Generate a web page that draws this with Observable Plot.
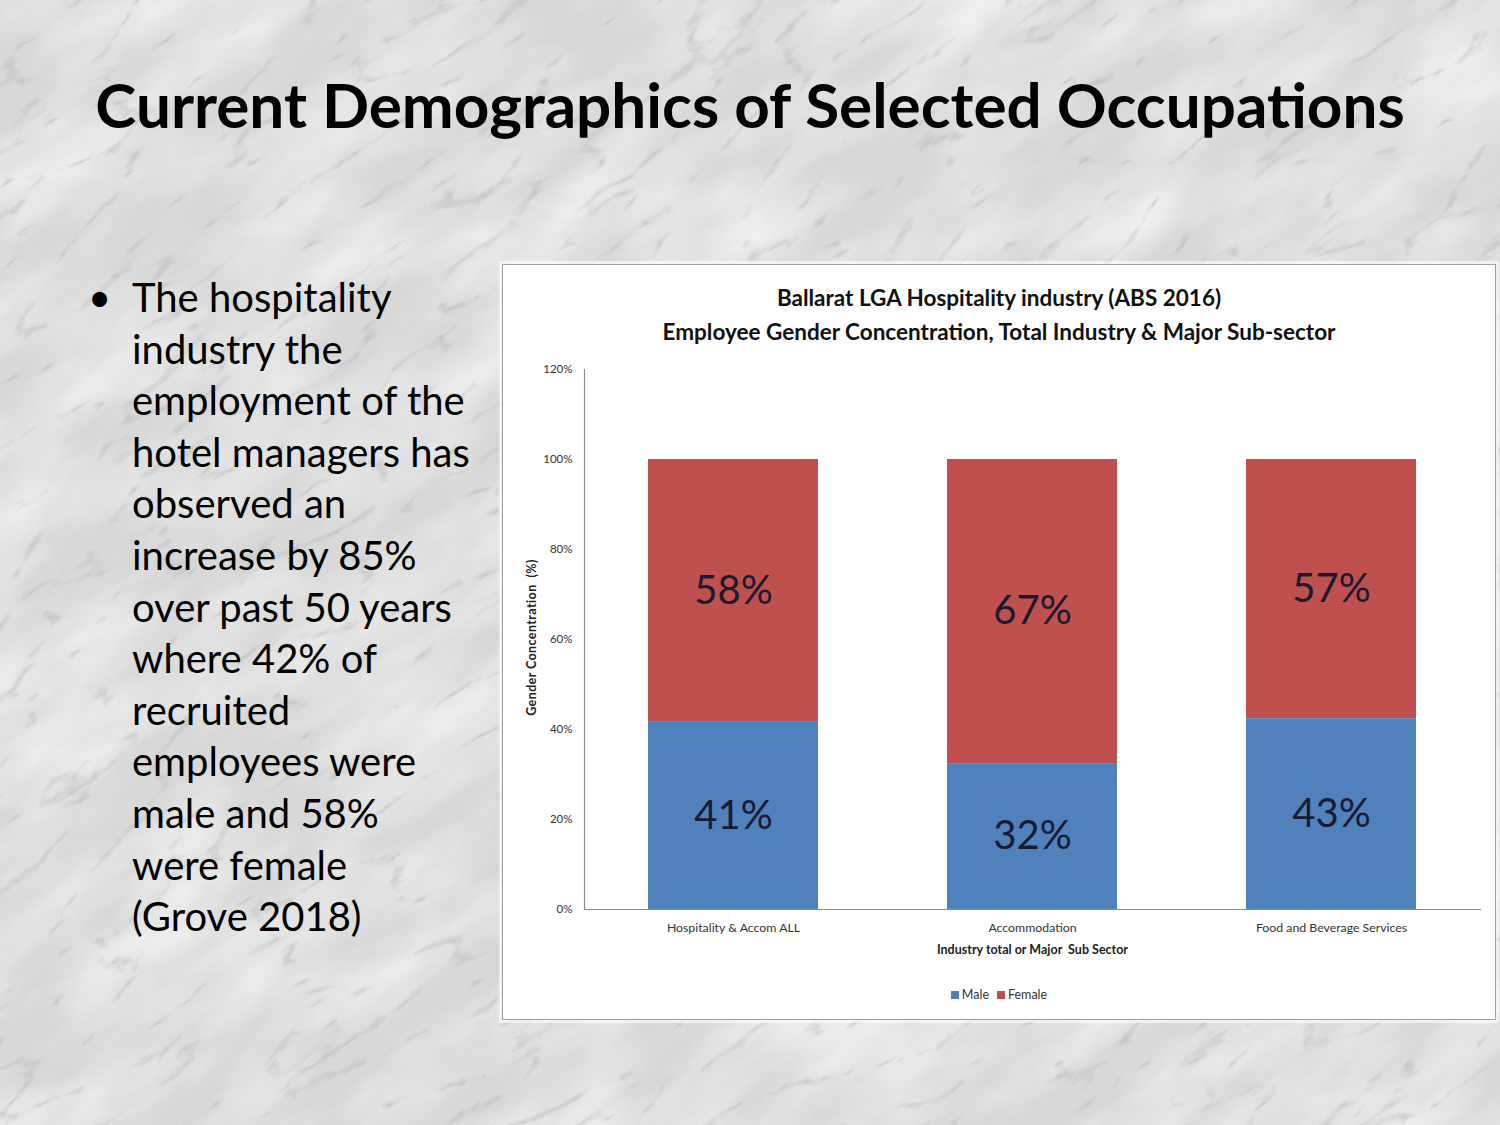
<!DOCTYPE html>
<html>
<head>
<meta charset="utf-8">
<script src="https://cdn.jsdelivr.net/npm/d3@7"></script>
<script src="https://cdn.jsdelivr.net/npm/@observablehq/plot@0.6"></script>
<style>
  html, body { margin: 0; padding: 0; }
  body {
    width: 1500px; height: 1125px; position: relative; overflow: hidden;
    font-family: Lato, "Open Sans", sans-serif;
    background-color: #d8d8d8;
  }
  #bg { position: absolute; left: 0; top: 0; }
  #title {
    position: absolute; left: 0; width: 1500px; top: 64px; text-align: center;
    font-weight: 700; font-size: 62px; color: #000; line-height: 80px;
  }
  #bullet {
    position: absolute; left: 88px; top: 272px; font-size: 40px; line-height: 51.6px; color: #000;
  }
  #bullet .dot { position: absolute; left: 0; top: 0; }
  #bullet .txt { position: absolute; left: 44px; top: 0; white-space: nowrap; }
  #box {
    position: absolute; left: 502px; top: 264px; width: 992px; height: 754px;
    background: #fff; border: 1px solid #a0a0a0; box-shadow: 0 0 0 3px rgba(255,255,255,0.6);
  }
  .ctitle { position: absolute; left: 0; width: 992px; text-align: center; font-weight: 700; font-size: 22.5px; color: #111; }
  #plot { position: absolute; left: 0; top: 86px; }
  #ylab {
    position: absolute; left: 28px; top: 365px; width: 300px; margin-left: -150px; text-align: center;
    transform: rotate(-90deg); font-size: 12.5px; font-weight: 700; color: #222; letter-spacing: 0.4px;
  }
  #xlab { position: absolute; left: 81px; width: 897px; top: 677px; text-align: center; font-size: 12.5px; font-weight: 700; color: #222; }
  #legend { position: absolute; left: 0; width: 992px; top: 722px; text-align: center; font-size: 12.5px; color: #333; }
  #legend span.sw { display: inline-block; width: 8px; height: 8px; margin-right: 3px; }
  #legend span.it { margin: 0 4px; }
</style>
</head>
<body>
<svg id="bg" width="1500" height="1125">
  <defs>
    <filter id="clouds" x="0" y="0" width="100%" height="100%">
      <feTurbulence type="fractalNoise" baseFrequency="0.006 0.014" numOctaves="4" seed="7"/>
      <feColorMatrix type="matrix" values="0 0 0 0 1  0 0 0 0 1  0 0 0 0 1  1.6 0 0 0 -0.55"/>
    </filter>
    <filter id="veins" x="0" y="0" width="100%" height="100%">
      <feTurbulence type="turbulence" baseFrequency="0.007 0.02" numOctaves="5" seed="11"/>
      <feColorMatrix type="matrix" values="0 0 0 0 0.42  0 0 0 0 0.43  0 0 0 0 0.46  -4.5 0 0 0 0.75"/>
    </filter>
  </defs>
  <g transform="rotate(-35 750 560)">
    <rect x="-600" y="-600" width="2700" height="2400" filter="url(#clouds)" opacity="0.75"/>
    <rect x="-600" y="-600" width="2700" height="2400" filter="url(#veins)" opacity="0.7"/>
  </g>
</svg>
<div id="title">Current Demographics of Selected Occupations</div>
<div id="bullet"></div>
<div id="box">
  <div class="ctitle" style="top:19px">Ballarat LGA Hospitality industry (ABS 2016)</div>
  <div class="ctitle" style="top:53px">Employee Gender Concentration, Total Industry &amp; Major Sub-sector</div>
  <div id="plot"></div>
  <div id="ylab">Gender Concentration &nbsp;(%)</div>
  <div id="xlab">Industry total or Major &nbsp;Sub Sector</div>
  <div id="legend"></div>
</div>
<script>
// ---- data ----
const categories = ["Hospitality & Accom ALL", "Accommodation", "Food and Beverage Services"];
const series = ["Male", "Female"];
const maleValues = [41.6, 32.4, 42.4];
const femaleValues = [58.4, 67.6, 57.6];
const maleLabels = ["41%", "32%", "43%"];
const femaleLabels = ["58%", "67%", "57%"];
const yTicks = [0, 20, 40, 60, 80, 100, 120];
const colors = ["#4F81BD", "#C0504D"];
const bulletLines = [
  "The hospitality", "industry the", "employment of the", "hotel managers has",
  "observed an", "increase by 85%", "over past 50 years", "where 42% of",
  "recruited", "employees were", "male and 58%", "were female", "(Grove 2018)"
];

// ---- bullet text ----
const b = document.getElementById("bullet");
b.innerHTML = '<span class="dot">\u2022</span><div class="txt">' + bulletLines.join("<br>") + '</div>';

// ---- long table ----
const rows = [];
categories.forEach((c, i) => {
  rows.push({cat: c, sex: "Male", value: maleValues[i], label: maleLabels[i]});
  rows.push({cat: c, sex: "Female", value: femaleValues[i], label: femaleLabels[i]});
});

const chart = Plot.plot({
  width: 992,
  height: 670,
  marginLeft: 81,
  marginRight: 14,
  marginTop: 18,
  marginBottom: 112,
  style: {fontFamily: "Lato, sans-serif", background: "transparent", overflow: "visible"},
  x: {domain: categories, paddingInner: 0.43, paddingOuter: 0.215, label: null},
  y: {domain: [0, 120], label: null},
  color: {domain: series, range: colors},
  marks: [
    Plot.barY(rows, {x: "cat", y: "value", fill: "sex", order: series}),
    Plot.text(rows, Plot.stackY({x: "cat", y: "value", z: "sex", order: series, text: "label",
      fontSize: 40, fill: "#1a1a33"})),
    Plot.ruleY([0], {stroke: "#8c8c8c", strokeWidth: 1.2}),
    Plot.frame({anchor: "left", stroke: "#8c8c8c", strokeWidth: 1.2}),
    Plot.axisY({ticks: yTicks, tickFormat: d => d + "%", tickSize: 0, tickPadding: 12,
      fontSize: 11.5, fill: "#333", label: null}),
    Plot.axisX({tickSize: 0, tickPadding: 14, fontSize: 12.3, fill: "#333", label: null})
  ]
});
document.getElementById("plot").appendChild(chart);

// ---- legend ----
const lg = document.getElementById("legend");
lg.innerHTML = series.map((s, i) =>
  `<span class="it"><span class="sw" style="background:${colors[i]}"></span>${s}</span>`).join("");
</script>
</body>
</html>
